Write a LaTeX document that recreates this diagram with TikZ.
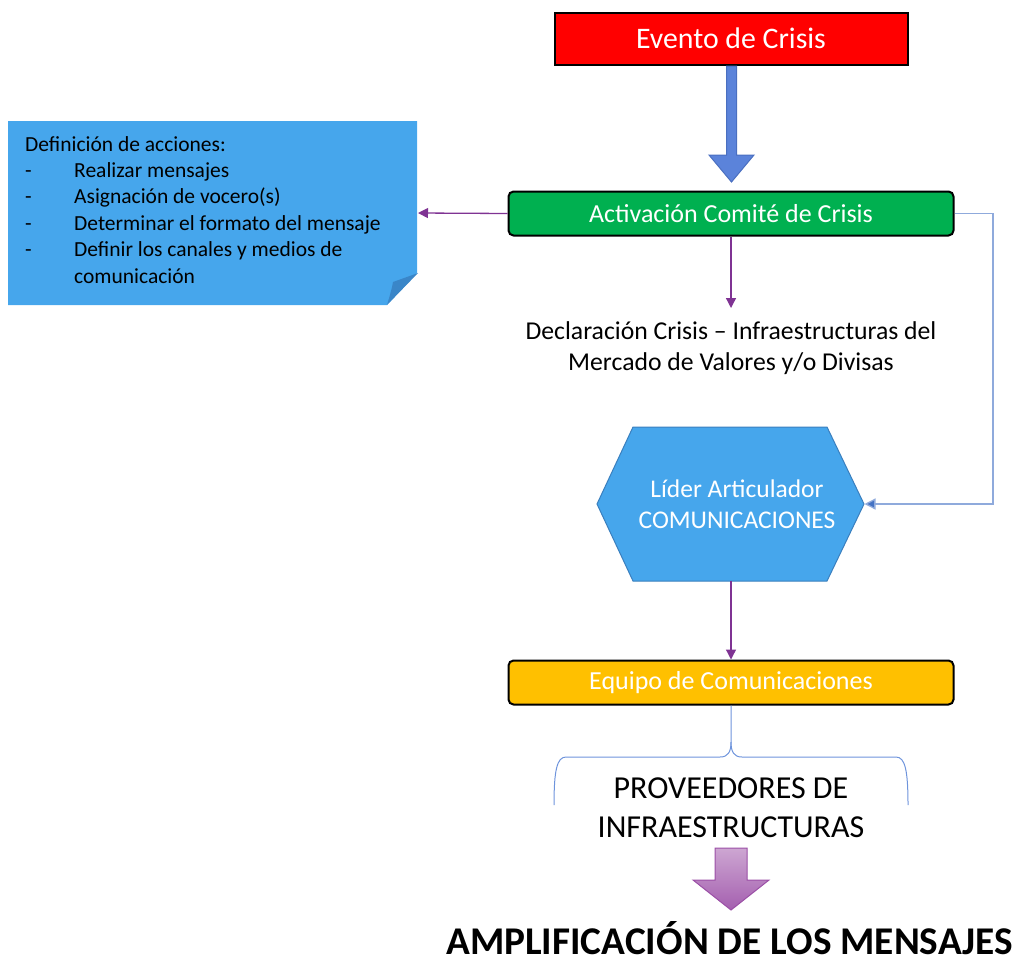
\documentclass[tikz,border=0pt]{standalone}
\usepackage{fontspec}
\setmainfont{Carlito}
\usetikzlibrary{arrows.meta}
\definecolor{evred}{HTML}{FF0000}
\definecolor{cgreen}{HTML}{00B050}
\definecolor{cblue}{HTML}{46A6EC}
\definecolor{cbluedk}{HTML}{3A7FBE}
\definecolor{cfold}{HTML}{3A86C8}
\definecolor{corange}{HTML}{FFC000}
\definecolor{arrblue}{HTML}{5B83DA}
\definecolor{arrbluedk}{HTML}{4A6FC0}
\definecolor{cpurple}{HTML}{7F3393}
\definecolor{linkblue}{HTML}{8FAADC}
\definecolor{tipblue}{HTML}{4472C4}
\definecolor{bracecol}{HTML}{6E94DC}
\definecolor{gradtop}{HTML}{CDA6D2}
\definecolor{gradbot}{HTML}{A45FAF}
\definecolor{gradline}{HTML}{9B4FA6}
\begin{document}
\begin{tikzpicture}[x=1pt,y=-1pt,
  box/.style={draw=black,line width=2pt,minimum width=444pt,minimum height=44pt,inner sep=0pt,text=white},
  plink/.style={draw=cpurple,line width=1.3pt,-{Triangle[width=10pt,length=10pt]}},
  blink/.style={draw=linkblue,line width=1.3pt,-{Triangle[width=11pt,length=11pt,fill=tipblue]}},
  notetxt/.style={anchor=base west,inner sep=0pt,font=\fontsize{21.5}{26}\selectfont}
]
\useasboundingbox (0,0) rectangle (1016,961);

% Evento de Crisis
\node[box,fill=evred,minimum width=353pt,minimum height=52pt,font=\fontsize{29.8}{35}\selectfont] (evento) at (731,38.5) {Evento de Crisis};

% big blue arrow
\filldraw[fill=arrblue,draw=arrbluedk,line width=1pt] (726.5,66) -- (736.5,66) -- (736.5,155) -- (754,155) -- (731.5,182) -- (709,155) -- (726.5,155) -- cycle;

% Activacion
\node[box,fill=cgreen,rounded corners=5pt,minimum width=445pt,minimum height=44pt,font=\fontsize{26}{31}\selectfont] (activ) at (731,213.5) {Activación Comité de Crisis};

% Note
\filldraw[fill=cblue,draw=none] (8,121) -- (417,121) -- (417,273) -- (387,305) -- (8,305) -- cycle;
\filldraw[fill=cfold,draw=none] (387,305) .. controls (390,295) and (392,288) .. (393,282) -- (418,273) -- cycle;
\coordinate (noteR) at (418,213);
\node[notetxt] (n0) at (25,151) {Definición de acciones:};
\node[notetxt] (n1) at (25,177) {-};
\node[notetxt] (n1t) at (74,177) {Realizar mensajes};
\node[notetxt] (n2) at (25,203.5) {-};
\node[notetxt] (n2t) at (74,203.5) {Asignación de vocero(s)};
\node[notetxt] (n3) at (25,230) {-};
\node[notetxt] (n3t) at (74,230) {Determinar el formato del mensaje};
\node[notetxt] (n4) at (25,256.5) {-};
\node[notetxt] (n4t) at (74,256.5) {Definir los canales y medios de};
\node[notetxt] (n5t) at (74,283) {comunicación};

\draw[plink] (activ.west) -- (noteR);

% Declaracion
\coordinate (declTop) at (731,308);
\draw[plink] (activ.south) -- (declTop);
\node[align=center,inner sep=0pt,font=\fontsize{25.7}{31.5}\selectfont] (decl) at (731,348) {Declaración Crisis – Infraestructuras del\\Mercado de Valores y/o Divisas};

% Hexagon
\filldraw[fill=cblue,draw=cbluedk,line width=1pt] (633,427) -- (827,427) -- (864,504) -- (827,581) -- (633,581) -- (597,504) -- cycle;
\coordinate (hexR) at (864.5,504);
\coordinate (hexB) at (731,581);
\node[align=center,inner sep=0pt,text=white,font=\fontsize{25.5}{31}\selectfont] (lider) at (737,504) {Líder Articulador\\COMUNICACIONES};

\draw[blink] (activ.east) -- (993,213.5) -- (993,504) -- (hexR);

% Equipo
\node[box,fill=corange,rounded corners=5pt,minimum width=445pt,minimum height=44pt,font=\fontsize{26}{31}\selectfont] (equipo) at (731,682.5) {Equipo de Comunicaciones};
\draw[plink] (hexB) -- (equipo.north);

% Brace
\draw[bracecol,line width=1pt] (equipo.south) -- (731,742) .. controls (731,752) and (728,757) .. (720,757) -- (566,757) .. controls (557,757) and (554,770) .. (554,805);
\draw[bracecol,line width=1pt] (731,742) .. controls (731,752) and (734,757) .. (742,757) -- (896,757) .. controls (905,757) and (908,770) .. (908,805);

\node[align=center,inner sep=0pt,font=\fontsize{32}{39}\selectfont] (prov) at (731,808) {PROVEEDORES DE\\INFRAESTRUCTURAS};

% gradient arrow
\shadedraw[top color=gradtop,bottom color=gradbot,draw=gradline,line width=1pt] (715,848) -- (747,848) -- (747,880) -- (769,880) -- (731,910) -- (693,880) -- (715,880) -- cycle;

\node[inner sep=0pt,anchor=base,font=\bfseries\fontsize{39.3}{46}\selectfont] (ampl) at (729.5,954) {AMPLIFICACIÓN DE LOS MENSAJES};
\end{tikzpicture}
\end{document}
